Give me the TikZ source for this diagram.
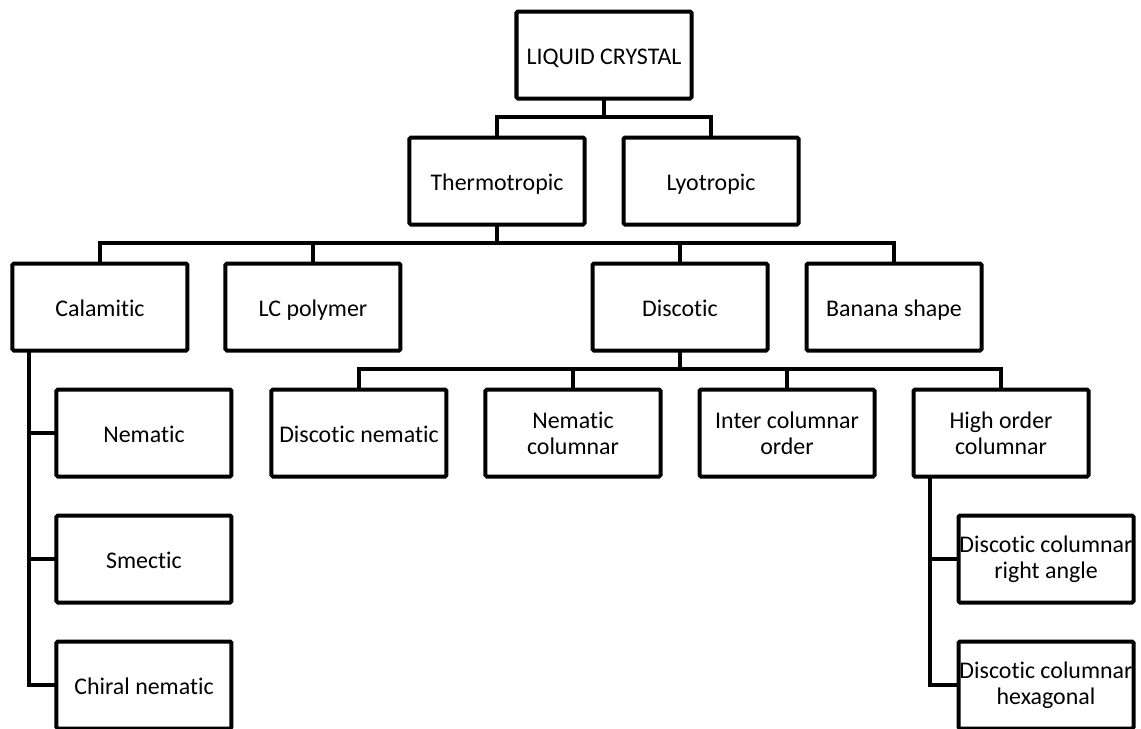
\documentclass[tikz,border=0pt]{standalone}
\usepackage{fontspec}
\setmainfont{Carlito}[RawFeature=-liga]
\usetikzlibrary{positioning}
\tikzstyle{lcbox} = [rectangle, minimum width=4.375cm, minimum height=2.175cm, inner sep=0pt, outer sep=0pt, align=center, draw=black, line width=0.1cm, rounded corners=1pt, font=\fontsize{17}{18.5}\selectfont, execute at begin node=\rule{0pt}{19pt}]
\tikzstyle{link} = [line width=0.1cm, draw=black]

\begin{document}
\begin{tikzpicture}[node distance=3.15cm]
\useasboundingbox (-15.1,1.375) rectangle (13.425,-16.825);

%Boxes
\node (lc) [lcbox] {LIQUID CRYSTAL\strut};
\node (thermo) [lcbox, below of=lc, xshift=-2.675cm] {Thermotropic\strut};
\node (lyo) [lcbox, right of=thermo, xshift=2.2cm] {Lyotropic\strut};
%Thermotropic
\node (calam) [lcbox, below of=thermo, xshift=-9.925cm] {Calamitic\strut};
\node (lcpoly) [lcbox, right of=calam, xshift=2.175cm] {LC polymer\strut};
\node (disco) [lcbox, below of=thermo, xshift=4.575cm] {Discotic\strut};
\node (banana) [lcbox, right of=disco, xshift=2.2cm] {Banana shape\strut};
%Calamitic
\node (nem) [lcbox, below of=calam, xshift=1.1cm] {Nematic\strut};
\node (smec) [lcbox, below of=nem] {Smectic\strut};
\node (chiral) [lcbox, below of=smec] {Chiral nematic\strut};
%Discotic
\node (nemcol) [lcbox, below of=disco, xshift=-2.675cm] {Nematic\\columnar};
\node (disconem) [lcbox, left of=nemcol, xshift=-2.2cm] {Discotic nematic\strut};
\node (inter) [lcbox, right of=nemcol, xshift=2.2cm] {Inter columnar\\order};
\node (high) [lcbox, right of=inter, xshift=2.2cm] {High order\\columnar};
%High order
\node (dcright) [lcbox, below of=high, xshift=1.125cm] {Discotic columnar\\right angle};
\node (dchex) [lcbox, below of=dcright] {Discotic columnar\\hexagonal};

%links
\draw [link] (lc.south) -- ++(0,-0.45) -| (thermo.north);
\draw [link] (lc.south) -- ++(0,-0.45) -| (lyo.north);
\draw [link] (thermo.south) -- ++(0,-0.45) -| (calam.north);
\draw [link] (thermo.south) -- ++(0,-0.45) -| (lcpoly.north);
\draw [link] (thermo.south) -- ++(0,-0.45) -| (disco.north);
\draw [link] (thermo.south) -- ++(0,-0.45) -| (banana.north);
\draw [link] (disco.south) -- ++(0,-0.45) -| (disconem.north);
\draw [link] (disco.south) -- ++(0,-0.45) -| (nemcol.north);
\draw [link] (disco.south) -- ++(0,-0.45) -| (inter.north);
\draw [link] (disco.south) -- ++(0,-0.45) -| (high.north);
\draw [link] ([xshift=0.425cm]calam.south west) |- (nem.west);
\draw [link] ([xshift=0.425cm]calam.south west) |- (smec.west);
\draw [link] ([xshift=0.425cm]calam.south west) |- (chiral.west);
\draw [link] ([xshift=0.4cm]high.south west) |- (dcright.west);
\draw [link] ([xshift=0.4cm]high.south west) |- (dchex.west);

\end{tikzpicture}
\end{document}
